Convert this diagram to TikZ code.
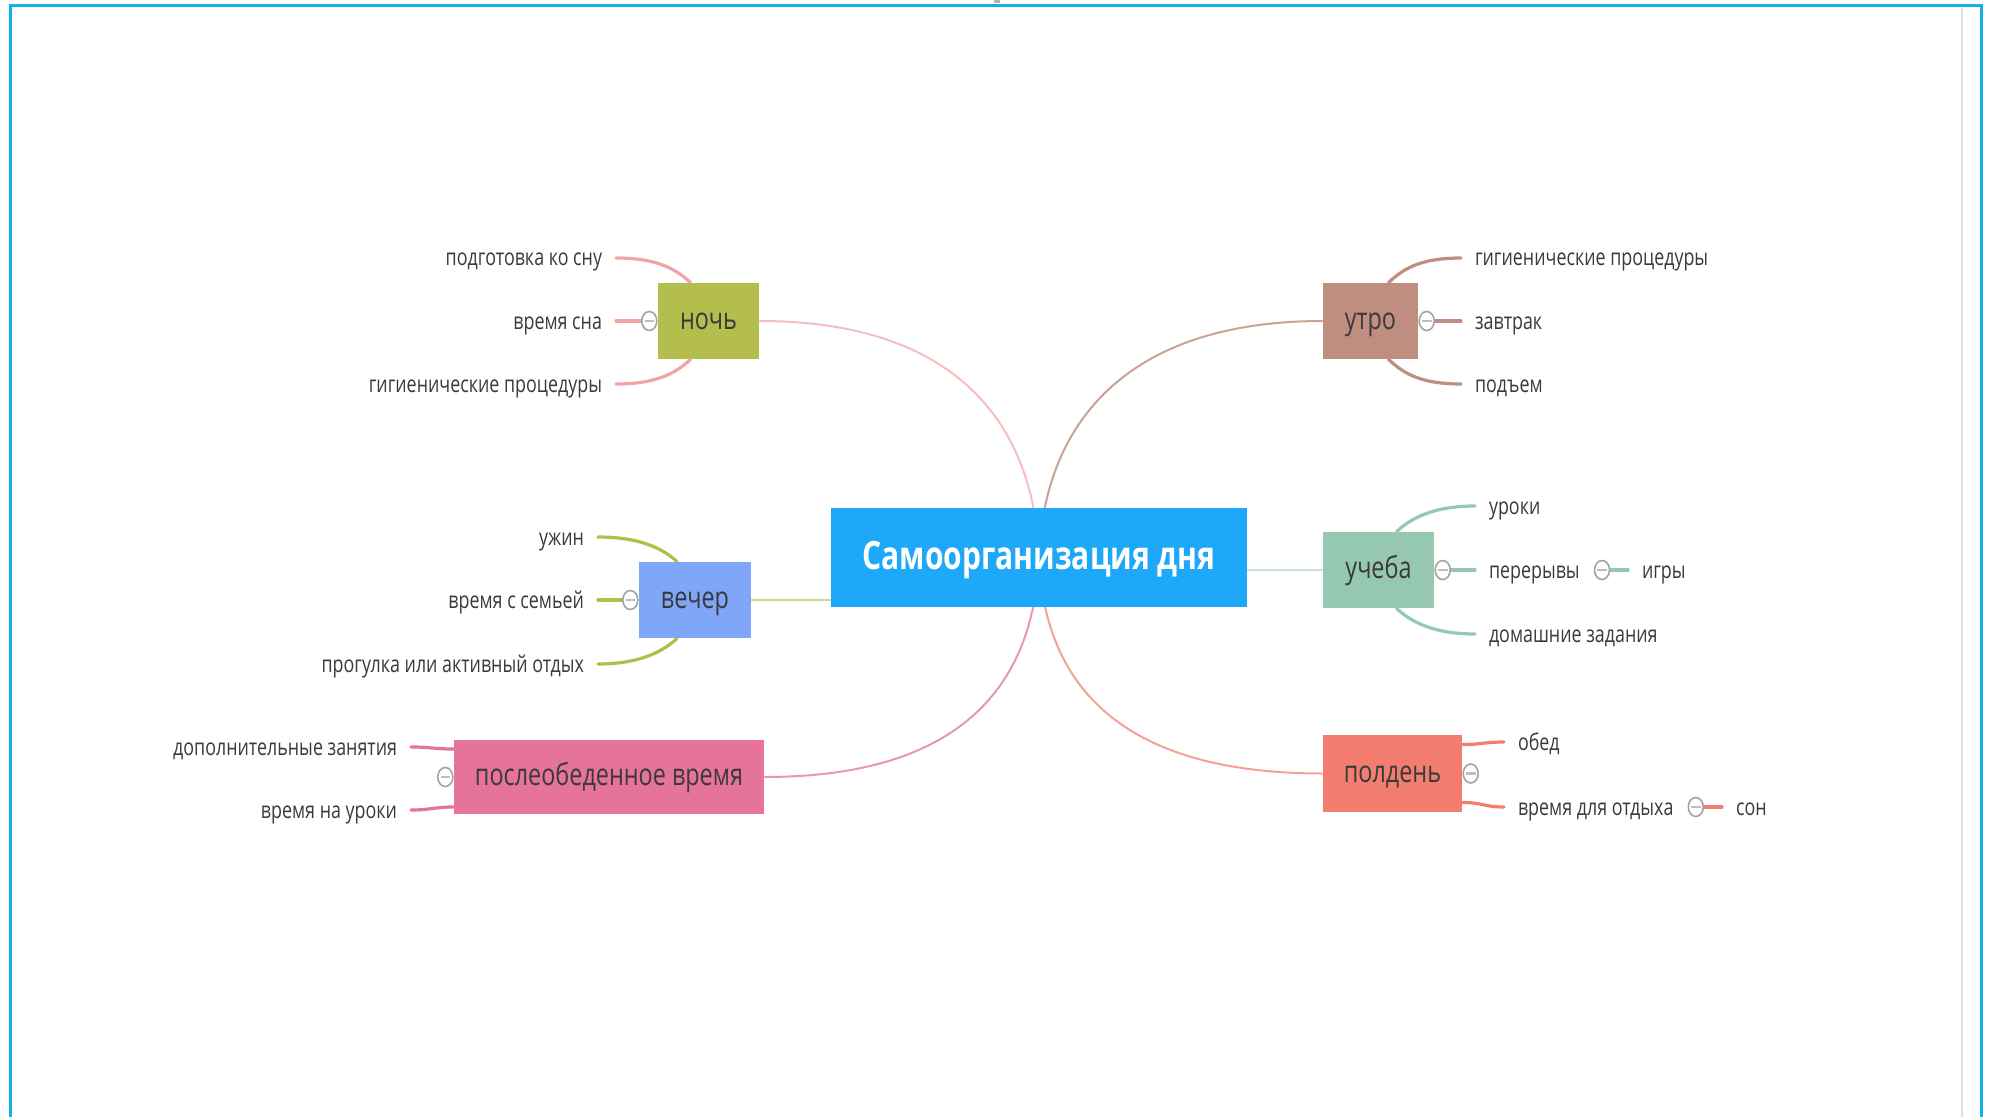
\documentclass[tikz,border=0pt]{standalone}
\usepackage{fontspec}
\setmainfont{Open Sans}[FakeStretch=0.77]
\usetikzlibrary{shapes.geometric}
\definecolor{cMain}{HTML}{1EA8FA}
\definecolor{cNoch}{HTML}{B3BE4D}
\definecolor{lNoch}{HTML}{F3A3A3}
\definecolor{cNochC}{HTML}{F5BFBF}
\definecolor{cUtro}{HTML}{BF8E80}
\definecolor{cUtroC}{HTML}{C9A396}
\definecolor{cUch}{HTML}{96C8B1}
\definecolor{cUchC}{HTML}{C5E3D6}
\definecolor{cVech}{HTML}{7FA6F8}
\definecolor{lVech}{HTML}{B2BE4A}
\definecolor{cVechC}{HTML}{D0DA8E}
\definecolor{cPosle}{HTML}{E6739B}
\definecolor{cPosleC}{HTML}{EC94B3}
\definecolor{cPold}{HTML}{F37E6F}
\definecolor{cPoldC}{HTML}{F5A195}
\definecolor{txt}{HTML}{3A3A3A}
\definecolor{frameblue}{HTML}{12B0E8}
\definecolor{togc}{HTML}{A3A3A3}
\pgfdeclarelayer{bg}
\pgfsetlayers{bg,main}
\begin{document}
\begin{tikzpicture}[x=0.5pt,y=-0.5pt,
  mainnode/.style={rectangle, fill=cMain, text=white, inner sep=0,
    font=\fontsize{19.5}{23}\selectfont\bfseries, text height=1.27em, text depth=0em,
    minimum width=208pt, minimum height=49.5pt},
  topic/.style={rectangle, inner sep=0, text=txt, font=\fontsize{15.2}{18}\selectfont,
    text height=0.85em, text depth=0em},
  leaf/.style={inner sep=0, outer xsep=7pt, text=txt, font=\fontsize{11.6}{14}\selectfont,
    text height=0.8em, text depth=0em},
  leafL/.style={leaf, anchor=east},
  leafR/.style={leaf, anchor=west},
  tog/.style={ellipse, draw=togc, fill=white, line width=0.8pt, minimum width=7.5pt,
    minimum height=9.5pt, inner sep=0,
    path picture={\draw[togc!70, line width=1.2pt]
      ([xshift=-2.4pt]path picture bounding box.center) --
      ([xshift=2.4pt]path picture bounding box.center);}},
  br/.style={line width=1.6pt, line cap=round},
  cc/.style={line width=1pt}
]
\useasboundingbox (0,0) rectangle (1989,1117);
\draw[frameblue, line width=1.5pt] (10,1117) -- (10,6) -- (1981,6) -- (1981,1117);
\draw[black!12, line width=1pt] (1962,8) -- (1962,1117);
\fill[black!30] (994,0) rectangle (1000,3);

% central and topic nodes
\node[mainnode] (c) at (1039,557) {Самоорганизация дня};
\node[topic, fill=cNoch, minimum width=50.5pt, minimum height=38pt] (noch) at (708.5,321) {ночь};
\node[topic, fill=cUtro, minimum width=47.5pt, minimum height=38pt] (utro) at (1370.5,321) {утро};
\node[topic, fill=cUch, minimum width=55.5pt, minimum height=38pt] (uch) at (1378.5,570) {учеба};
\node[topic, fill=cVech, minimum width=56pt, minimum height=38pt] (vech) at (695,600) {вечер};
\node[topic, fill=cPosle, minimum width=155pt, minimum height=37pt] (posle) at (609,777) {послеобеденное время};
\node[topic, fill=cPold, minimum width=69.5pt, minimum height=38.5pt] (pold) at (1392.5,773.5) {полдень};

% leaves: ночь
\node[leafL] (n1) at (616,258) {подготовка ко сну};
\node[leafL] (n2) at (616,321) {время сна};
\node[leafL] (n3) at (616,384) {гигиенические процедуры};
\node[tog, anchor=east] (tn) at (noch.west) {};
% leaves: утро
\node[leafR] (u1) at (1461,258) {гигиенические процедуры};
\node[leafR] (u2) at (1461,321) {завтрак};
\node[leafR] (u3) at (1461,384) {подъем};
\node[tog, anchor=west] (tu) at (utro.east) {};
% leaves: учеба
\node[leafR] (s1) at (1475,506) {уроки};
\node[leafR] (s2) at (1475,570) {перерывы};
\node[leafR] (s3) at (1475,634) {домашние задания};
\node[tog, anchor=west] (ts) at (uch.east) {};
\node[tog, anchor=west] (ts2) at (s2.east) {};
\node[leafR] (s4) at (1628,570) {игры};
% leaves: вечер
\node[leafL] (v1) at (598,537) {ужин};
\node[leafL] (v2) at (598,600) {время с семьей};
\node[leafL] (v3) at (598,664) {прогулка или активный отдых};
\node[tog, anchor=east] (tv) at (vech.west) {};
% leaves: послеобеденное время
\node[leafL] (p1) at (411,747) {дополнительные занятия};
\node[leafL] (p2) at (411,810) {время на уроки};
\node[tog, anchor=east] (tp) at (posle.west) {};
% leaves: полдень
\node[leafR] (d1) at (1504,742) {обед};
\node[leafR] (d2) at (1504,807) {время для отдыха};
\node[tog, anchor=west] (td) at (pold.east) {};
\node[tog, anchor=west] (td2) at (d2.east) {};
\node[leafR] (d3) at (1722,807) {сон};

\begin{pgfonlayer}{bg}
\fill[white] (0,0) rectangle (1989,1117);
% central connectors
\draw[cc, cNochC] (noch.east) .. controls +(200,0) and +(-5,-130) .. (c.center);
\draw[cc, cUtroC] (utro.west) .. controls +(-200,0) and +(5,-130) .. (c.center);
\draw[cc, cPosleC] (posle.east) .. controls +(195,0) and +(-5,130) .. (c.center);
\draw[cc, cPoldC] (pold.west) .. controls +(-200,0) and +(5,130) .. (c.center);
\draw[cc, cVechC] (vech.east) -- (vech.east -| c.center);
\draw[cc, cUchC] (uch.west) -- (uch.west -| c.center);
% ночь
\draw[br, lNoch] (n1.east) .. controls +(42,0) and +(-14,-13) .. ([xshift=-9pt]noch.north);
\draw[br, lNoch] (n2.east) -- (tn.west);
\draw[br, lNoch] (n3.east) .. controls +(42,0) and +(-14,13) .. ([xshift=-9pt]noch.south);
% утро
\draw[br, cUtro] (u1.west) .. controls +(-42,0) and +(14,-13) .. ([xshift=9pt]utro.north);
\draw[br, cUtro] (tu.east) -- (u2.west);
\draw[br, cUtro] (u3.west) .. controls +(-42,0) and +(14,13) .. ([xshift=9pt]utro.south);
% учеба
\draw[br, cUch] (s1.west) .. controls +(-42,0) and +(14,-13) .. ([xshift=9pt]uch.north);
\draw[br, cUch] (ts.east) -- (s2.west);
\draw[br, cUch] (s3.west) .. controls +(-42,0) and +(14,13) .. ([xshift=9pt]uch.south);
\draw[br, cUch] (ts2.east) -- (s4.west);
% вечер
\draw[br, lVech] (v1.east) .. controls +(42,0) and +(-14,-13) .. ([xshift=-9pt]vech.north);
\draw[br, lVech] (v2.east) -- (tv.west);
\draw[br, lVech] (v3.east) .. controls +(42,0) and +(-14,13) .. ([xshift=-9pt]vech.south);
% послеобеденное время
\draw[br, cPosle] (p1.east) .. controls +(20,0) and +(-20,0) .. ([yshift=14pt]posle.west);
\draw[br, cPosle] (p2.east) .. controls +(20,0) and +(-20,0) .. ([yshift=-15pt]posle.west);
% полдень
\draw[br, cPold] (d1.west) .. controls +(-20,0) and +(20,0) .. ([yshift=14.5pt]pold.east);
\draw[br, cPold] (d2.west) .. controls +(-20,0) and +(20,0) .. ([yshift=-14.5pt]pold.east);
\draw[br, cPold] (td2.east) -- (d3.west);
\end{pgfonlayer}
\end{tikzpicture}
\end{document}
